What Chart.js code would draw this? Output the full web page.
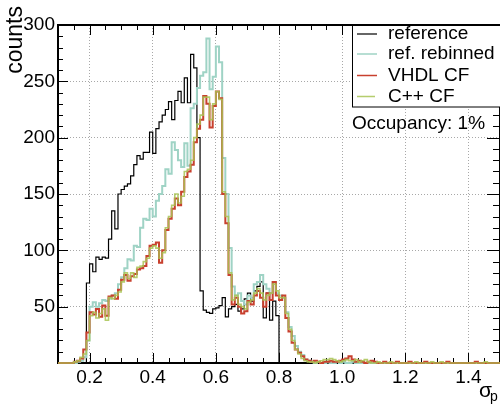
<!DOCTYPE html>
<html>
<head>
<meta charset="utf-8">
<script src="https://cdn.jsdelivr.net/npm/chart.js@4.4.0/dist/chart.umd.min.js"></script>
<style>
  html, body { margin: 0; padding: 0; background: #fff; }
  #wrap { position: relative; width: 500px; height: 405px; }
</style>
</head>
<body>
<div id="wrap"><canvas id="sigmaChart"></canvas></div>
<script>
// histogram binning (sigma_p), 140 bins from 0.1 to 1.5
const binStart = 0.1;
const binWidth = 0.01;
const xTickValues = [0.2, 0.4, 0.6, 0.8, 1.0, 1.2, 1.4];
const yTickValues = [50, 100, 150, 200, 250, 300];
const seriesLabels = ["reference", "ref. rebinned", "VHDL CF", "C++ CF"];
const occupancyText = "Occupancy: 1%";

// counts per bin, one row = 0.1 in sigma_p
const reference = [
    0, 0, 0, 0, 0, 0, 0, 0, 0, 71,
    88, 81, 94, 92, 94, 93, 110, 135, 119, 150,
    154, 157, 159, 166, 176, 184, 181, 187, 187, 205,
    186, 208, 214, 220, 225, 232, 216, 233, 241, 231,
    253, 231, 274, 262, 200, 64, 47, 45, 44, 48,
    49, 51, 58, 41, 48, 50, 52, 46, 48, 57,
    62, 55, 64, 68, 72, 40, 62, 38, 55, 42,
    0, 0, 0, 0, 0, 0, 0, 0, 0, 0,
    0, 0, 0, 0, 0, 0, 0, 0, 0, 0,
    0, 0, 0, 0, 0, 0, 0, 0, 0, 0,
    0, 0, 0, 0, 0, 0, 0, 0, 0, 0,
    0, 0, 0, 0, 0, 0, 0, 0, 0, 0,
    0, 0, 0, 0, 0, 0, 0, 0, 0, 0,
    0, 0, 0, 0, 0, 0, 0, 0, 0, 0,
];
const refRebinned = [
    0, 0, 0, 0, 0, 0, 1, 2, 5, 20,
    50, 54, 50, 53, 56, 55, 57, 60, 62, 70,
    76, 84, 92, 91, 104, 103, 120, 128, 127, 137,
    130, 144, 150, 157, 172, 168, 196, 189, 180, 174,
    195, 175, 226, 230, 244, 255, 258, 288, 243, 254,
    281, 267, 182, 150, 102, 68, 60, 62, 55, 52,
    60, 58, 70, 72, 78, 70, 66, 62, 72, 62,
    60, 58, 45, 32, 24, 15, 10, 7, 3, 2,
    1, 0, 1, 0, 0, 1, 0, 0, 1, 0,
    1, 0, 0, 1, 0, 0, 0, 0, 0, 0,
    0, 0, 0, 0, 0, 0, 0, 0, 0, 0,
    0, 0, 0, 0, 0, 0, 0, 0, 0, 0,
    0, 0, 0, 0, 0, 0, 0, 0, 0, 0,
    0, 0, 0, 0, 0, 0, 0, 0, 0, 0,
];
const vhdlCF = [
    0, 0, 0, 0, 0, 1, 2, 4, 12, 27,
    45, 43, 48, 41, 51, 42, 59, 60, 57, 65,
    74, 78, 73, 77, 79, 83, 84, 86, 95, 104,
    105, 107, 89, 100, 118, 128, 137, 146, 140, 152,
    165, 170, 176, 196, 208, 216, 237, 230, 209, 228,
    241, 235, 150, 124, 78, 52, 58, 50, 44, 46,
    55, 52, 60, 64, 58, 50, 62, 56, 72, 60,
    56, 60, 40, 28, 18, 12, 9, 6, 3, 2,
    1, 2, 1, 0, 1, 1, 2, 1, 1, 2,
    3, 4, 6, 3, 1, 2, 1, 0, 1, 2,
    1, 0, 0, 1, 0, 0, 0, 1, 0, 0,
    0, 1, 0, 0, 0, 0, 1, 0, 0, 0,
    0, 0, 0, 1, 0, 0, 0, 0, 0, 0,
    0, 0, 1, 0, 0, 0, 0, 0, 0, 0,
];
const cppCF = [
    0, 0, 0, 0, 0, 1, 2, 5, 8, 20,
    42, 45, 40, 44, 48, 38, 58, 57, 60, 63,
    72, 80, 75, 80, 76, 85, 86, 90, 93, 102,
    104, 102, 93, 98, 120, 130, 140, 150, 142, 148,
    170, 172, 180, 200, 212, 220, 236, 236, 216, 230,
    241, 234, 152, 130, 80, 56, 60, 52, 50, 48,
    54, 56, 62, 66, 62, 56, 60, 62, 70, 64,
    58, 58, 44, 30, 20, 12, 8, 4, 2, 1,
    1, 0, 1, 2, 3, 3, 4, 3, 2, 1,
    2, 3, 2, 2, 3, 1, 2, 3, 1, 0,
    0, 1, 0, 0, 0, 1, 0, 0, 0, 0,
    0, 0, 0, 1, 0, 0, 0, 0, 1, 0,
    0, 1, 0, 0, 0, 0, 0, 0, 0, 0,
    0, 0, 0, 0, 0, 1, 0, 0, 0, 0,
];

const FONT = "'Liberation Sans', Arial, Helvetica, sans-serif";

/** turn bin counts into step points (left bin edges + closing edge) */
function toSteps(counts) {
    const pts = counts.map((c, i) => ({ x: binStart + i * binWidth, y: c }));
    pts.push({ x: binStart + counts.length * binWidth, y: counts[counts.length - 1] });
    return pts;
}

function histDataset(label, counts, color, width, order) {
    return {
        label,
        data: toSteps(counts),
        borderColor: color,
        backgroundColor: color,
        borderWidth: width,
        stepped: "before",
        pointRadius: 0,
        fill: false,
        clip: false,
        order,
    };
}

/** ROOT-like frame: box with inward ticks on all sides */
const rootFrame = {
    id: "rootFrame",
    beforeDatasetsDraw(chart) {
        const { ctx, chartArea: a, scales } = chart;
        const x = scales.x, y = scales.y;
        ctx.save();
        ctx.strokeStyle = "#000";
        ctx.lineWidth = 1;
        ctx.beginPath();
        for (let k = 2; k <= 30; k++) {
            const px = Math.round(x.getPixelForValue(k * 0.05)) + 0.5;
            const len = k % 4 === 0 ? 10 : 5;
            ctx.moveTo(px, a.bottom);
            ctx.lineTo(px, a.bottom - len);
            ctx.moveTo(px, a.top);
            ctx.lineTo(px, a.top + len);
        }
        for (let v = 10; v <= 300; v += 10) {
            const py = Math.round(y.getPixelForValue(v)) + 0.5;
            const major = v % 50 === 0;
            ctx.moveTo(a.left, py);
            ctx.lineTo(a.left + (major ? 10 : 5), py);
            ctx.moveTo(a.right, py);
            ctx.lineTo(a.right - (major ? 13 : 7), py);
        }
        ctx.stroke();
        ctx.lineWidth = 2;
        ctx.strokeRect(a.left, a.top, a.right - a.left, a.bottom - a.top);
        ctx.restore();
    },
    afterDraw(chart) {
        const { ctx, chartArea: a } = chart;
        ctx.save();
        ctx.fillStyle = "#000";

        // y axis title
        ctx.save();
        ctx.translate(22, 6);
        ctx.rotate(-Math.PI / 2);
        ctx.font = "23px " + FONT;
        ctx.textAlign = "right";
        ctx.textBaseline = "alphabetic";
        ctx.fillText("counts", 0, 0);
        ctx.restore();

        // x axis title sigma_p
        ctx.font = "21px " + FONT;
        ctx.textAlign = "left";
        ctx.textBaseline = "alphabetic";
        ctx.fillText("\u03c3", 479, 397);
        ctx.font = "14px " + FONT;
        ctx.fillText("p", 490, 401);

        // legend box
        const lx = 352, ly = a.top, lw = 148, lh = 82;
        ctx.fillStyle = "#fff";
        ctx.fillRect(lx, ly, lw, lh);
        ctx.strokeStyle = "#000";
        ctx.lineWidth = 1;
        ctx.strokeRect(lx + 0.5, ly + 0.5, lw, lh - 0.5);
        ctx.font = "19px " + FONT;
        ctx.textBaseline = "middle";
        const rows = [8.5, 28.5, 50, 71];
        seriesLabels.forEach((label, r) => {
            const ds = chart.data.datasets[r];
            const yy = ly + rows[r] + 0.5;
            ctx.strokeStyle = ds.legendColor || ds.borderColor;
            ctx.lineWidth = 1.5;
            ctx.beginPath();
            ctx.moveTo(357, yy);
            ctx.lineTo(r === 3 ? 375 : 377, yy);
            ctx.stroke();
            ctx.fillStyle = "#000";
            ctx.fillText(label, 388, yy);
        });

        // occupancy note
        ctx.font = "19px " + FONT;
        ctx.textBaseline = "alphabetic";
        ctx.fillStyle = "#000";
        ctx.fillText(occupancyText, 352, 129);
        ctx.restore();
    },
};

const datasets = [
    histDataset(seriesLabels[0], reference, "#000000", 1.2, 3),
    histDataset(seriesLabels[1], refRebinned, "#9fd3c5", 2, 2),
    histDataset(seriesLabels[2], vhdlCF, "#c8402e", 2, 1),
    histDataset(seriesLabels[3], cppCF, "rgba(168,196,84,0.85)", 1.6, 0),
];
datasets[0].legendColor = "#333";

new Chart(document.getElementById("sigmaChart"), {
    type: "line",
    data: { datasets },
    options: {
        responsive: true,
        maintainAspectRatio: false,
        animation: false,
        events: [],
        layout: { padding: { top: 25, right: 0, left: 0, bottom: 0 } },
        plugins: {
            legend: { display: false },
            tooltip: { enabled: false },
            title: { display: false },
        },
        scales: {
            x: {
                type: "linear",
                min: 0.1,
                max: 1.5,
                afterBuildTicks: (s) => {
                    s.ticks = xTickValues.map((v) => ({ value: v }));
                },
                afterFit: (s) => {
                    s.height = 42;
                },
                ticks: {
                    callback: (v) => Number(v).toFixed(1),
                    font: { family: FONT, size: 19 },
                    color: "#000",
                    padding: 3,
                    maxRotation: 0,
                    autoSkip: false,
                },
                grid: { color: "#a8a8a8", lineWidth: 1, drawTicks: false },
                border: { display: false, dash: [1, 2] },
            },
            y: {
                min: 0,
                max: 300,
                afterBuildTicks: (s) => {
                    s.ticks = yTickValues.map((v) => ({ value: v }));
                },
                afterFit: (s) => {
                    s.width = 58;
                },
                ticks: {
                    font: { family: FONT, size: 19 },
                    color: "#000",
                    padding: 3,
                },
                grid: { color: "#a8a8a8", lineWidth: 1, drawTicks: false },
                border: { display: false, dash: [1, 2] },
            },
        },
    },
    plugins: [rootFrame],
});
</script>
</body>
</html>
